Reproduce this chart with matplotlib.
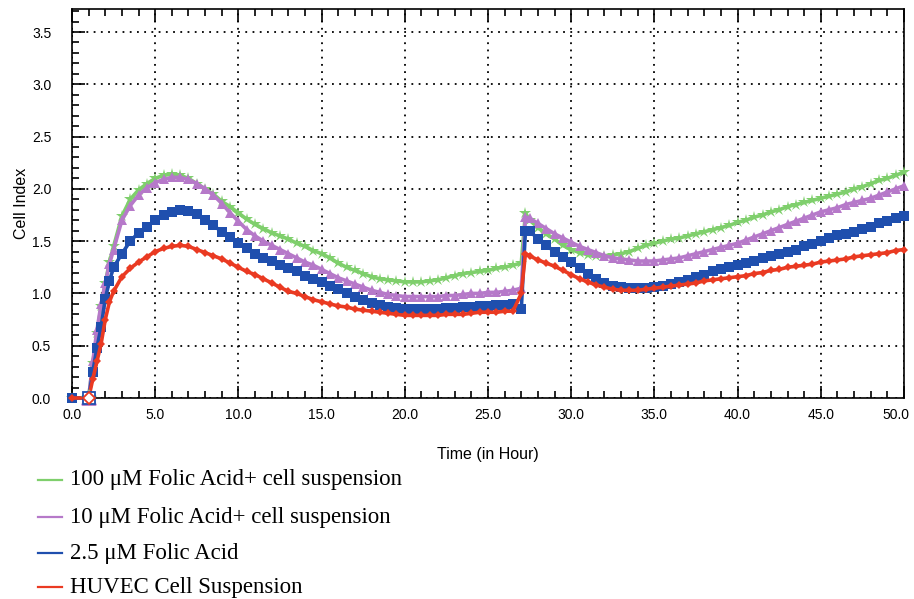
import numpy as np
import matplotlib
matplotlib.use("Agg")
import matplotlib.pyplot as plt
from matplotlib.ticker import MultipleLocator
from matplotlib.lines import Line2D
from matplotlib.transforms import ScaledTranslation
import logging
logging.getLogger('matplotlib.font_manager').setLevel(logging.ERROR)

# ---- time axis (hours) ----
t_early = [0.0, 1.0, 1.25]
t_rise = [1.5, 1.75, 2.0, 2.25, 2.5]
t_first = list(np.arange(3.0, 26.51, 0.5))
t_jump = [27.0, 27.25]
t_second = list(np.arange(27.5, 50.01, 0.5))
time = np.array(t_early + t_rise + t_first + t_jump + t_second)

# ---- series values (Cell Index) ----
green_early = [0.0, 0.0, 0.33]
green_first = [0.62, 0.88, 1.10, 1.30, 1.45, 1.74, 1.90, 1.99, 2.05, 2.10, 2.13, 2.14, 2.13,
               2.10, 2.05, 2.00, 1.95, 1.88, 1.83, 1.77, 1.71, 1.66, 1.62, 1.58, 1.55, 1.52,
               1.48, 1.45, 1.41, 1.38, 1.34, 1.29, 1.25, 1.22, 1.19, 1.16, 1.14, 1.13, 1.12,
               1.11, 1.11, 1.11, 1.12, 1.13, 1.15, 1.17, 1.19, 1.20, 1.21, 1.22, 1.24, 1.25, 1.27]
green_jump = [1.29, 1.77]
green_second = [1.70, 1.63, 1.57, 1.52, 1.46, 1.42, 1.39, 1.37, 1.36, 1.36, 1.37, 1.38, 1.40,
                1.43, 1.46, 1.48, 1.50, 1.52, 1.53, 1.55, 1.57, 1.59, 1.61, 1.63, 1.65, 1.68,
                1.70, 1.73, 1.75, 1.78, 1.80, 1.83, 1.85, 1.87, 1.89, 1.91, 1.93, 1.95, 1.97,
                2.00, 2.02, 2.05, 2.08, 2.10, 2.13, 2.16]

purple_early = [0.0, 0.0, 0.35]
purple_first = [0.65, 0.90, 1.10, 1.28, 1.42, 1.70, 1.84, 1.94, 2.01, 2.06, 2.09, 2.11, 2.11,
                2.09, 2.05, 2.00, 1.94, 1.86, 1.77, 1.69, 1.61, 1.55, 1.50, 1.46, 1.42, 1.38,
                1.34, 1.30, 1.27, 1.23, 1.19, 1.15, 1.12, 1.09, 1.06, 1.03, 1.01, 0.99, 0.98,
                0.97, 0.97, 0.97, 0.97, 0.97, 0.98, 0.98, 0.99, 1.00, 1.00, 1.01, 1.01, 1.02, 1.03]
purple_jump = [1.05, 1.73]
purple_second = [1.72, 1.67, 1.62, 1.57, 1.53, 1.49, 1.45, 1.42, 1.39, 1.36, 1.34, 1.33, 1.32,
                 1.31, 1.31, 1.31, 1.32, 1.33, 1.34, 1.36, 1.38, 1.40, 1.42, 1.44, 1.46, 1.48,
                 1.51, 1.54, 1.57, 1.60, 1.63, 1.66, 1.69, 1.72, 1.75, 1.78, 1.80, 1.82, 1.85,
                 1.87, 1.89, 1.91, 1.94, 1.97, 2.00, 2.03]

blue_early = [0.0, 0.0, 0.25]
blue_first = [0.48, 0.68, 0.95, 1.12, 1.25, 1.38, 1.50, 1.58, 1.64, 1.70, 1.75, 1.78, 1.80,
              1.79, 1.76, 1.70, 1.65, 1.59, 1.54, 1.48, 1.43, 1.38, 1.34, 1.31, 1.27, 1.24,
              1.21, 1.17, 1.14, 1.11, 1.07, 1.04, 1.00, 0.97, 0.94, 0.91, 0.89, 0.87, 0.86,
              0.85, 0.85, 0.85, 0.85, 0.85, 0.86, 0.86, 0.87, 0.87, 0.88, 0.88, 0.89, 0.89, 0.90]
blue_jump = [0.85, 1.60]
blue_second = [1.60, 1.52, 1.46, 1.40, 1.35, 1.30, 1.24, 1.19, 1.14, 1.10, 1.07, 1.06, 1.05,
               1.05, 1.05, 1.06, 1.07, 1.09, 1.11, 1.13, 1.16, 1.18, 1.21, 1.23, 1.25, 1.27,
               1.29, 1.31, 1.34, 1.36, 1.38, 1.40, 1.42, 1.45, 1.47, 1.50, 1.53, 1.56, 1.57,
               1.59, 1.62, 1.64, 1.67, 1.69, 1.72, 1.74]

red_early = [0.0, 0.0, 0.18]
red_first = [0.35, 0.52, 0.75, 0.92, 1.02, 1.16, 1.24, 1.30, 1.35, 1.40, 1.43, 1.45, 1.46,
             1.45, 1.42, 1.39, 1.36, 1.33, 1.29, 1.25, 1.21, 1.18, 1.14, 1.10, 1.06, 1.02,
             1.00, 0.97, 0.94, 0.92, 0.90, 0.88, 0.87, 0.85, 0.84, 0.83, 0.82, 0.81, 0.80,
             0.79, 0.79, 0.79, 0.79, 0.79, 0.80, 0.80, 0.80, 0.81, 0.82, 0.82, 0.82, 0.83, 0.83]
red_jump = [1.00, 1.38]
red_second = [1.36, 1.32, 1.29, 1.26, 1.22, 1.18, 1.14, 1.11, 1.08, 1.06, 1.04, 1.03, 1.03,
              1.03, 1.04, 1.05, 1.06, 1.07, 1.08, 1.09, 1.10, 1.12, 1.13, 1.14, 1.15, 1.16,
              1.17, 1.19, 1.20, 1.22, 1.23, 1.25, 1.26, 1.27, 1.28, 1.30, 1.31, 1.32, 1.33,
              1.35, 1.36, 1.37, 1.38, 1.39, 1.41, 1.42]

labels = ["100 \u03bcM Folic Acid+ cell suspension",
          "10 \u03bcM Folic Acid+ cell suspension",
          "2.5 \u03bcM Folic Acid",
          "HUVEC Cell Suspension"]
x_ticks = [0, 5, 10, 15, 20, 25, 30, 35, 40, 45, 50]
y_ticks = [0.0, 0.5, 1.0, 1.5, 2.0, 2.5, 3.0, 3.5]

series = [
    (green_early + green_first + green_jump + green_second, "#7fcf6c", "*", 9),
    (purple_early + purple_first + purple_jump + purple_second, "#b679c9", "^", 7.5),
    (blue_early + blue_first + blue_jump + blue_second, "#1f4fae", "s", 7),
    (red_early + red_first + red_jump + red_second, "#ea3a22", "D", 4.5),
]

sans = ['Liberation Sans', 'DejaVu Sans']

fig = plt.figure(figsize=(9.14, 5.99), dpi=100)
ax = fig.add_axes([72 / 914, 1 - 398 / 599, (904 - 72) / 914, (398 - 9) / 599])

for vals, col, mk, ms in series:
    vals = np.array(vals)
    ax.plot(time, vals, color=col, lw=2.6, marker=mk, markersize=ms,
            markeredgewidth=0, clip_on=False, zorder=3)
    # open marker at t = 1.0
    ax.plot(time[1:2], vals[1:2], linestyle='none', marker=mk, markersize=ms + 2,
            markerfacecolor='white', markeredgecolor=col, markeredgewidth=1.3,
            clip_on=False, zorder=4)

ax.set_xlim(0, 50)
ax.set_ylim(0, 3.72)
ax.set_xticks(x_ticks)
ax.set_xticklabels([f"{v:.1f}" for v in x_ticks], family=sans, fontsize=10)
ax.set_yticks(y_ticks)
ax.set_yticklabels([f"{v:.1f}" for v in y_ticks], family=sans, fontsize=10)
ax.xaxis.set_minor_locator(MultipleLocator(1))
ax.yaxis.set_minor_locator(MultipleLocator(0.1))
ax.tick_params(which='both', direction='in', top=True, right=False, colors='black',
               width=1.2)
ax.tick_params(which='major', length=9, pad=7)
ax.tick_params(which='minor', length=5)
ax.tick_params(axis='y', which='major', pad=15)
ax.grid(True, which='major', color='black', linestyle=(0, (1, 3)), linewidth=1.3)
for sp in ax.spines.values():
    sp.set_linewidth(1.2)
ax.set_xlabel("Time (in Hour)", fontsize=11.5, labelpad=18, family=sans)
ax.set_ylabel("Cell Index", fontsize=11.5, labelpad=2, family=sans)

# shift the last x tick label slightly left so it stays inside the figure
last = ax.get_xticklabels()[-1]
last.set_transform(last.get_transform() + ScaledTranslation(-6 / 72, 0, fig.dpi_scale_trans))

# legend below the plot
ys = [480, 517, 553, 587]
for lab, (vals, col, mk, ms), yp in zip(labels, series, ys):
    yf = 1 - yp / 599
    fig.add_artist(Line2D([38 / 914, 62 / 914], [yf, yf], color=col, lw=1.6))
    fig.text(70 / 914, yf, lab, fontsize=16.5, family='Liberation Serif',
             va='center', ha='left')

fig.savefig("out.png", dpi=100)
